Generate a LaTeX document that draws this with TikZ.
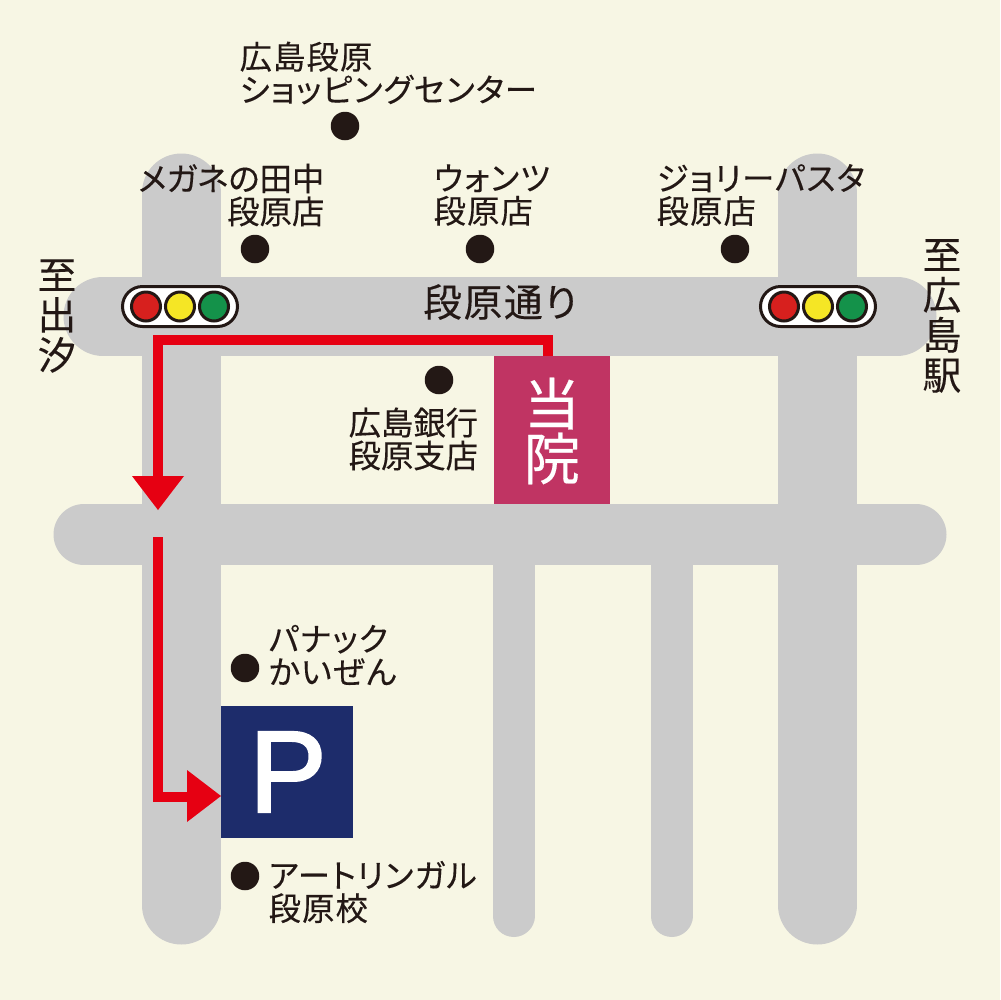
\documentclass[tikz,border=0pt]{standalone}
\usepackage{fontspec}
\setmainfont[RawFeature=+palt,FakeBold=0.25]{Noto Sans CJK JP}
\newfontfamily\kanaf[RawFeature=+palt,FakeBold=0.25,LetterSpace=3.5]{Noto Sans CJK JP}
\newfontfamily\roadf[RawFeature=+palt,FakeBold=0.25,LetterSpace=4.5]{Noto Sans CJK JP}
\newfontfamily\pfont[FakeBold=2]{Liberation Sans}
\definecolor{bgc}{HTML}{F7F6E4}
\definecolor{roadc}{HTML}{CBCBCB}
\definecolor{blk}{HTML}{231815}
\definecolor{redc}{HTML}{E60012}
\definecolor{hosp}{HTML}{C03463}
\definecolor{park}{HTML}{1D2C6B}
\definecolor{sigr}{HTML}{D7201E}
\definecolor{sigy}{HTML}{F5E625}
\definecolor{sigg}{HTML}{14924A}
\tikzset{
 x=0.1mm,y=-0.1mm,
 road/.style={line cap=round,color=roadc},
 dotm/.style={circle,fill=blk,inner sep=0pt,minimum size=2.85mm},
 lab/.style={font=\fontsize{9.2pt}{9.35pt}\selectfont,text=blk,align=left,anchor=west,inner sep=0pt},
 klab/.style={font=\kanaf\fontsize{9.2pt}{9.35pt}\selectfont,text=blk,align=left,anchor=west,inner sep=0pt},
 bigt/.style={font=\fontsize{11pt}{11.4pt}\selectfont,text=blk,anchor=center,align=center,inner sep=0pt},
 lamp/.style={circle,draw=blk,line width=0.3mm,minimum size=2.9mm,inner sep=0pt},
 sighead/.style={rounded corners=2.0mm,draw=blk,fill=white,line width=0.3mm,minimum width=11.5mm,minimum height=4mm,inner sep=0pt},
 route/.style={color=redc,line width=1mm},
}
\begin{document}
\begin{tikzpicture}
\useasboundingbox (0,0) rectangle (1000,1000);
\fill[bgc] (0,0) rectangle (1000,1000);
% roads
\draw[road,line width=7.9mm] (181,193)--(181,905);
\draw[road,line width=7.9mm] (817,193)--(817,905);
\draw[road,line width=4.2mm] (513.5,540)--(513.5,916);
\draw[road,line width=4.2mm] (671.5,540)--(671.5,916);
\draw[road,line width=7.9mm] (103,316)--(897,316);
\draw[road,line width=6.1mm] (84,534.5)--(916,534.5);
% boxes
\node[fill=hosp,minimum width=11.6mm,minimum height=14.8mm,inner sep=0pt] (hosp) at (551.5,430) {};
\node[text=white,font=\fontsize{16pt}{15.6pt}\selectfont,align=center,inner sep=0pt] (hospt) at (552,431) {当\\院};
\node[fill=park,minimum width=13.2mm,minimum height=13.2mm,inner sep=0pt] (park) at (287,771.5) {};
\node[text=white,font=\pfont\fontsize{33pt}{33pt}\selectfont,inner sep=0pt] (pt) at (288,772) {P};
% signals
\node[sighead] (s1) at (180,306.5) {};
\node[lamp,fill=sigr] (s1a) at (146,306.5) {};
\node[lamp,fill=sigy] (s1b) at (180,306.5) {};
\node[lamp,fill=sigg] (s1c) at (214,306.5) {};
\node[sighead] (s2) at (818,306.5) {};
\node[lamp,fill=sigr] (s2a) at (784,306.5) {};
\node[lamp,fill=sigy] (s2b) at (818,306.5) {};
\node[lamp,fill=sigg] (s2c) at (852,306.5) {};
% route
\coordinate (r0) at (548,356);
\coordinate (r1) at (548,339.5);
\coordinate (r2) at (158,339.5);
\coordinate (r3) at (158,480);
\draw[route,line join=miter] (r0)--(r1)--(r2)--(r3);
\fill[redc] (132,476)--(184,476)--(158,510)--cycle;
\coordinate (r4) at (158,537);
\coordinate (r5) at (158,796.5);
\coordinate (r6) at (190,796.5);
\draw[route,line join=miter] (r4)--(r5)--(r6);
\fill[redc] (187,770)--(221,796)--(187,822)--cycle;
% dots
\node[dotm] (d1) at (345,126) {};
\node[dotm] (d2) at (255,249) {};
\node[dotm] (d3) at (480,249) {};
\node[dotm] (d4) at (735,249) {};
\node[dotm] (d5) at (439,380) {};
\node[dotm] (d6) at (245,668) {};
\node[dotm] (d7) at (245,876) {};
% labels
\node[klab] (t1) at (239,73) {広島段原\\ショッピングセンター};
\node[lab,align=right,anchor=east] (t2) at (325,195) {メガネの田中\\段原店};
\node[klab] (t3) at (433,195) {ウォンツ\\段原店};
\node[klab] (t4) at (656,195) {ジョリーパスタ\\段原店};
\node[lab] (t5) at (348,439) {広島銀行\\段原支店};
\node[klab] (t6) at (268,655) {パナック\\かいぜん};
\node[klab] (t7) at (268,892) {アートリンガル\\段原校};
\node[bigt,font=\roadf\fontsize{11pt}{11.4pt}\selectfont] (t8) at (500,302) {段原通り};
\node[bigt] (t9) at (57,316) {至\\出\\汐};
\node[bigt] (t10) at (942,316) {至\\広\\島\\駅};
\end{tikzpicture}
\end{document}
